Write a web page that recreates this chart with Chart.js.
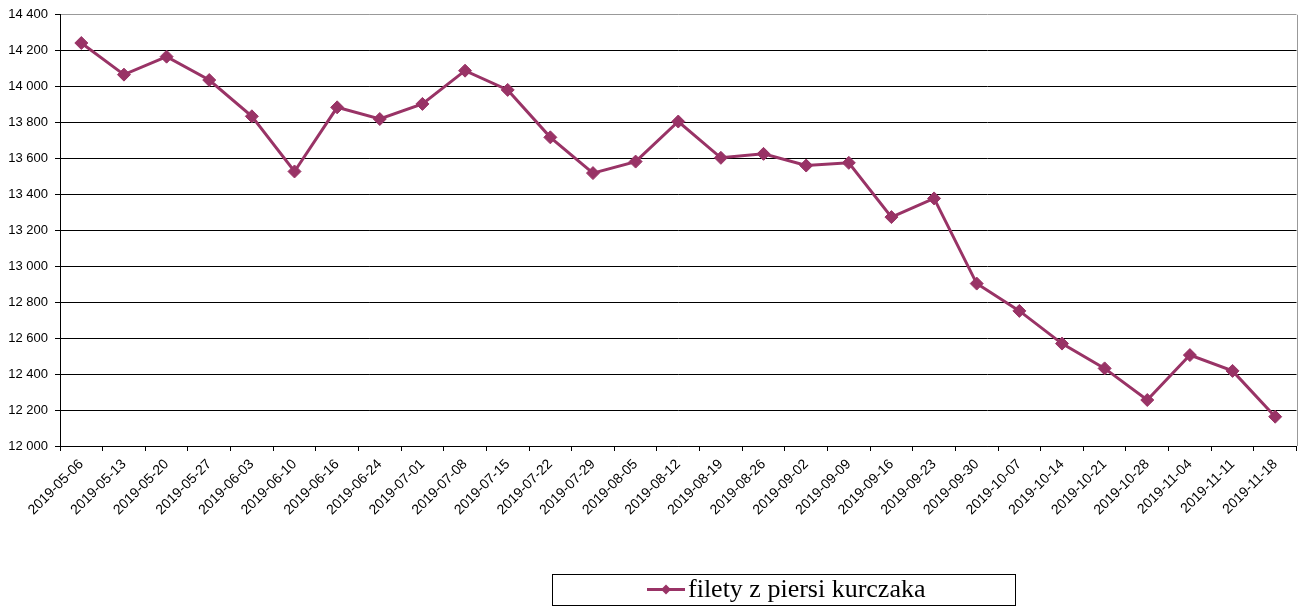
<!DOCTYPE html>
<html>
<head>
<meta charset="utf-8">
<script src="https://cdn.jsdelivr.net/npm/chart.js@4"></script>
<style>
  html, body { margin: 0; padding: 0; background: #fff; }
  #wrap { width: 1304px; height: 608px; position: relative; }
</style>
</head>
<body>
<div id="wrap"><canvas id="chart"></canvas></div>
<script>
// Weekly dates and values
const labels = [
  '2019-05-06', '2019-05-13', '2019-05-20', '2019-05-27', '2019-06-03', '2019-06-10',
  '2019-06-16', '2019-06-24', '2019-07-01', '2019-07-08', '2019-07-15', '2019-07-22',
  '2019-07-29', '2019-08-05', '2019-08-12', '2019-08-19', '2019-08-26', '2019-09-02',
  '2019-09-09', '2019-09-16', '2019-09-23', '2019-09-30', '2019-10-07', '2019-10-14',
  '2019-10-21', '2019-10-28', '2019-11-04', '2019-11-11', '2019-11-18'
];
const seriesName = 'filety z piersi kurczaka';
const values = [
  14243, 14067, 14167, 14037, 13835, 13528,
  13885, 13820, 13904, 14089, 13982, 13718,
  13519, 13583, 13806, 13604, 13626, 13561,
  13576, 13274, 13378, 12904, 12752, 12570,
  12432, 12256, 12506, 12418, 12163
];
const yMin = 12000;
const yMax = 14400;
const yStep = 200;

const LINE_COLOR = '#993366';

function fmt(v) {
  return String(v).replace(/\B(?=(\d{3})+(?!\d))/g, ' ');
}

// Gray frame on the right like the Excel plot area
const frame = {
  id: 'frame',
  beforeDatasetsDraw(chart) {
    const { ctx, chartArea: a } = chart;
    ctx.save();
    ctx.strokeStyle = '#999999';
    ctx.lineWidth = 1;
    ctx.beginPath();
    ctx.moveTo(Math.round(a.right) + 0.5, a.top);
    ctx.lineTo(Math.round(a.right) + 0.5, a.bottom);
    ctx.stroke();
    ctx.restore();
  }
};

// Boxed legend, placed off-centre like the original
const boxLegend = {
  id: 'boxLegend',
  afterDraw(chart) {
    const ctx = chart.ctx;
    const ds = chart.data.datasets[0];
    const bx = 552, by = 574, bw = 463, bh = 31;
    const cy = by + bh / 2;
    ctx.save();
    ctx.strokeStyle = '#000';
    ctx.lineWidth = 1;
    ctx.strokeRect(bx + 0.5, by + 0.5, bw, bh);

    ctx.strokeStyle = ds.borderColor;
    ctx.lineWidth = 3;
    ctx.beginPath();
    ctx.moveTo(647, cy);
    ctx.lineTo(685, cy);
    ctx.stroke();

    const r = 5;
    ctx.fillStyle = ds.borderColor;
    ctx.beginPath();
    ctx.moveTo(666, cy - r);
    ctx.lineTo(666 + r, cy);
    ctx.lineTo(666, cy + r);
    ctx.lineTo(666 - r, cy);
    ctx.closePath();
    ctx.fill();

    ctx.fillStyle = '#000';
    ctx.font = '26px "Liberation Serif", "Times New Roman", serif';
    ctx.textBaseline = 'middle';
    ctx.textAlign = 'left';
    ctx.fillText(ds.label, 688, cy + 1);
    ctx.restore();
  }
};

new Chart(document.getElementById('chart'), {
  type: 'line',
  data: {
    labels: labels,
    datasets: [{
      label: seriesName,
      data: values,
      borderColor: LINE_COLOR,
      backgroundColor: LINE_COLOR,
      borderWidth: 3,
      pointStyle: 'rectRot',
      pointRadius: 6.5,
      pointBackgroundColor: LINE_COLOR,
      pointBorderColor: LINE_COLOR,
      pointBorderWidth: 1,
      tension: 0,
      fill: false,
    }]
  },
  options: {
    responsive: true,
    maintainAspectRatio: false,
    animation: false,
    layout: { padding: { top: 14, right: 4, left: 0, bottom: 0 } },
    plugins: {
      legend: { display: false },
      tooltip: { enabled: false },
    },
    scales: {
      x: {
        offset: true,
        grid: {
          offset: true,
          drawOnChartArea: false,
          drawTicks: true,
          tickLength: 5,
          tickColor: '#000',
        },
        border: { display: true, color: '#000', width: 1 },
        ticks: {
          autoSkip: false,
          minRotation: 45,
          maxRotation: 45,
          padding: 5,
          color: '#000',
          font: { family: '"Liberation Sans", Arial, sans-serif', size: 14 },
        },
        afterFit: (s) => { s.height = 162; },
      },
      y: {
        min: yMin,
        max: yMax,
        grid: {
          color: (c) => (c.tick && c.tick.value === yMax ? '#999999' : '#000000'),
          tickColor: '#000',
          tickLength: 5,
          lineWidth: 1,
        },
        border: { display: true, color: '#000', width: 1 },
        ticks: {
          stepSize: yStep,
          padding: 7,
          color: '#000',
          font: { family: '"Liberation Sans", Arial, sans-serif', size: 13 },
          callback: (v) => fmt(v),
        },
        afterFit: (s) => { s.width = 60; },
      }
    }
  },
  plugins: [frame, boxLegend]
});
</script>
</body>
</html>
